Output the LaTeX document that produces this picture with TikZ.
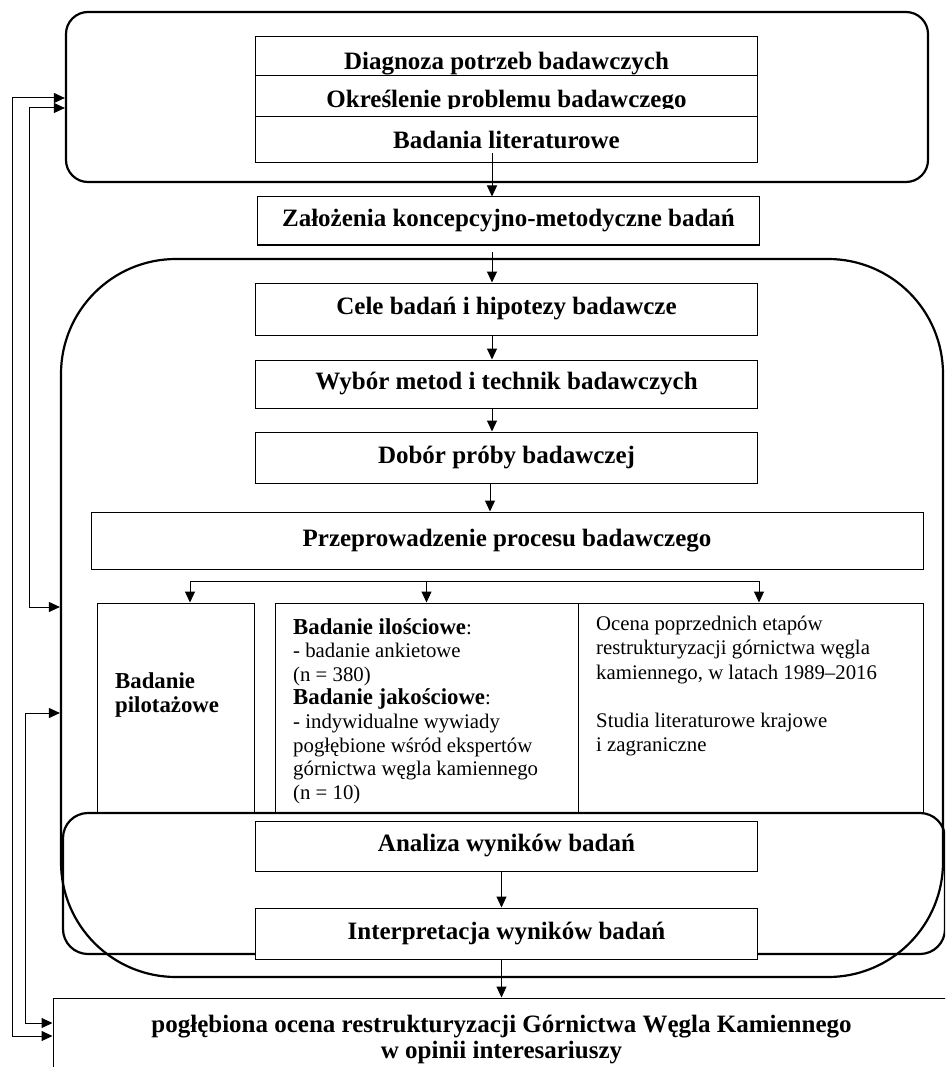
\documentclass[tikz,border=0pt]{standalone}
\usepackage{fontspec}
\setmainfont{Liberation Serif}
\usetikzlibrary{arrows.meta}

\begin{document}
\begin{tikzpicture}[x=1pt, y=-1pt,
    every node/.style={inner sep=0pt},
    roundframe/.style={draw, line width=2.2pt},
    box/.style={draw, line width=1pt, minimum width=502pt, align=center,
      font=\fontsize{25}{26}\selectfont\bfseries},
    col/.style={draw, line width=1pt, minimum height=210pt},
    txt/.style={anchor=north west, align=left, font=\fontsize{20.8}{23.6}\selectfont},
    arr/.style={-{Triangle[length=11pt,width=10pt]}, line width=1pt},
    back/.style={{Triangle[length=11pt,width=10pt]}-{Triangle[length=11pt,width=10pt]}, line width=1pt}]
    \clip (0,0) rectangle (945,1067);

    % Diagnosis block
    \node[roundframe, rounded corners=22pt, minimum width=862pt, minimum height=170pt] (topframe) at (497,97) {};
    \node[box, minimum height=39pt, text height=27pt, text depth=0pt] (diag) at (506.5,56.5) {Diagnoza potrzeb badawczych};
    \node[box, minimum height=41pt, text height=23pt, text depth=0pt] (prob) at (506.5,96.5) {Określenie problemu badawczego};
    \fill[white] ([xshift=1pt,yshift=8pt]prob.south west) rectangle ([xshift=-1pt]prob.south east);
    \node[box, minimum height=46pt] (lit) at (506.5,140) {Badania literaturowe};

    % Assumptions
    \node[box, minimum height=48pt] (zal) at (508.5,221) {Założenia koncepcyjno-metodyczne badań};

    % Research process
    \node[box, minimum height=52pt] (cele) at (506.5,309) {Cele badań i hipotezy badawcze};
    \node[box, minimum height=48pt] (metody) at (506.5,384) {Wybór metod i technik badawczych};
    \node[box, minimum height=51pt] (proba) at (506.5,457.5) {Dobór próby badawczej};
    \node[box, minimum width=832pt, minimum height=57pt] (proces) at (507,540.5) {Przeprowadzenie procesu badawczego};

    % Three columns
    \node[col, minimum width=157pt] (pilot) at (175.5,708) {};
    \node[col, minimum width=303pt] (quant) at (426.5,708) {};
    \node[col, minimum width=345pt] (ocena) at (750.5,708) {};
    \node[txt, font=\fontsize{22.8}{24}\selectfont\bfseries] (pilottxt) at (115,672) {Badanie\\pilotażowe};
    \node[txt] (quanttxt) at (293,618) {{\fontsize{22.8}{23.6}\selectfont\bfseries Badanie ilościowe}:\\
      - badanie ankietowe\\
      (n = 380)\\
      {\fontsize{22.8}{23.6}\selectfont\bfseries Badanie jakościowe}:\\
      - indywidualne wywiady\\
      pogłębione wśród ekspertów\\
      górnictwa węgla kamiennego\\
      (n = 10)};
    \node[txt, font=\fontsize{20.8}{24.2}\selectfont] (ocenatxt) at (596,616) {Ocena poprzednich etapów\\
      restrukturyzacji górnictwa węgla\\
      kamiennego, w latach 1989--2016\\[24pt]
      Studia literaturowe krajowe\\
      i zagraniczne};

    % Analysis
    \node[roundframe, rounded corners=25pt, fill=white, minimum width=882pt, minimum height=141pt] (anaframe) at (504,883.5) {};
    \node[box, minimum height=50pt] (analiza) at (506.5,846) {Analiza wyników badań};
    \node[box, minimum height=51pt, fill=white] (interp) at (506.5,933.5) {Interpretacja wyników badań};
    \node[roundframe, rounded corners=115pt, minimum width=882pt, minimum height=718pt] (midframe) at (502,618) {};

    % Outcome
    \node[box, minimum width=897pt, minimum height=82pt] (final) at (501.5,1039) {pogłębiona ocena restrukturyzacji Górnictwa Węgla Kamiennego\\w opinii interesariuszy};

    % Arrows
    \draw[arr] ([xshift=-14.5pt,yshift=10pt]lit.south) -- ([xshift=-16.5pt]zal.north);
    \draw[arr] ([xshift=-16.5pt,yshift=-6pt]zal.south) -- ([xshift=-14.5pt]cele.north);
    \draw[arr] ([xshift=-14.5pt]cele.south) -- ([xshift=-14.5pt]metody.north);
    \draw[arr] ([xshift=-14.5pt]metody.south) -- ([xshift=-14.5pt]proba.north);
    \draw[arr] ([xshift=-16.5pt]proba.south) -- ([xshift=-17pt]proces.north);
    \draw[arr] ([xshift=-5pt]analiza.south) -- ([xshift=-5pt]interp.north);
    \draw[arr] ([xshift=-5pt]interp.south) -- (final.north);

    % Fork to columns
    \coordinate (forkL) at (190,581);
    \coordinate (forkR) at (759,581);
    \draw[line width=1pt] (forkL) -- (forkR);
    \draw[arr] (forkL) -- (forkL |- pilot.north);
    \draw[arr] (quant.north |- forkL) -- (quant.north);
    \draw[arr] (forkR) -- (forkR |- ocena.north);

    % Feedback lines
    \draw[back] (topframe.west |- 0,98) -| (12,1036) -- (final.west |- 0,1036);
    \draw[back] (topframe.west |- 0,108) -| (29,607) -- (midframe.west |- 0,607);
    \draw[back] (midframe.west |- 0,713) -| (25,1023) -- (final.west |- 0,1023);
\end{tikzpicture}
\end{document}
